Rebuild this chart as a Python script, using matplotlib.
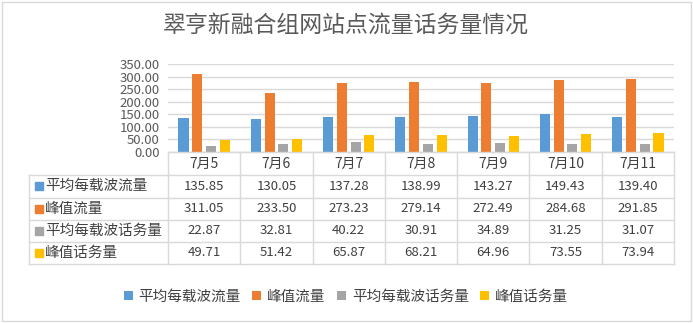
import matplotlib.pyplot as plt
from matplotlib.lines import Line2D
from matplotlib.patches import Rectangle
import numpy as np

plt.rcParams['font.family'] = ['Noto Sans CJK SC', 'DejaVu Sans']

title = "翠亨新融合组网站点流量话务量情况"
dates = ["7月5", "7月6", "7月7", "7月8", "7月9", "7月10", "7月11"]
avg_flow = [135.85, 130.05, 137.28, 138.99, 143.27, 149.43, 139.40]
peak_flow = [311.05, 233.50, 273.23, 279.14, 272.49, 284.68, 291.85]
avg_traffic = [22.87, 32.81, 40.22, 30.91, 34.89, 31.25, 31.07]
peak_traffic = [49.71, 51.42, 65.87, 68.21, 64.96, 73.55, 73.94]
series_names = ["平均每载波流量", "峰值流量", "平均每载波话务量", "峰值话务量"]
series = [avg_flow, peak_flow, avg_traffic, peak_traffic]
colors = ['#5b9bd5', '#ed7d31', '#a5a5a5', '#ffc000']

W, H = 693, 323
fig = plt.figure(figsize=(W / 100, H / 100), dpi=100)


def fx(x):
    return x / W


def fy(y):
    return 1 - y / H


grid_c = '#d9d9d9'
text_c = '#404040'

# outer chart border
fig.add_artist(Rectangle((fx(2), fy(321)), fx(689), (319) / H, transform=fig.transFigure,
                         fill=False, edgecolor=grid_c, linewidth=1))

fig.text(fx(346), fy(25), title, ha='center', va='center', fontsize=16.5, color='#595959')

# bar chart area
left, right, top, base = 168, 674, 64, 152
ax = fig.add_axes([fx(left), fy(base), fx(right - left), (base - top) / H])
x = np.arange(len(dates))
bw = 0.14
step = 0.19
for i, (vals, c, name) in enumerate(zip(series, colors, series_names)):
    ax.bar(x + (i - 1.5) * step, vals, width=bw, color=c, label=name, zorder=3)
ax.set_xlim(-0.5, len(dates) - 0.5)
ax.set_ylim(0, 350)
ax.set_yticks(np.arange(0, 351, 50))
ax.set_yticklabels([f"{v:.2f}" for v in np.arange(0, 351, 50)], fontsize=9.5, color='#595959')
ax.tick_params(axis='y', length=0, pad=6)
ax.set_xticks([])
ax.grid(axis='y', color=grid_c, linewidth=1, zorder=0)
for s in ['top', 'right', 'left']:
    ax.spines[s].set_visible(False)
ax.spines['bottom'].set_color(grid_c)

# data table under the bars
col_w = (right - left) / len(dates)
tab_left = 29
rows_y = [152, 175, 197.5, 220, 242, 264]


def hline(x0, x1, y):
    fig.add_artist(Line2D([fx(x0), fx(x1)], [fy(y), fy(y)], transform=fig.transFigure,
                          color=grid_c, linewidth=1))


def vline(xp, y0, y1):
    fig.add_artist(Line2D([fx(xp), fx(xp)], [fy(y0), fy(y1)], transform=fig.transFigure,
                          color=grid_c, linewidth=1))


hline(left, right, rows_y[0])
for y in rows_y[1:]:
    hline(tab_left, right, y)
vline(tab_left, rows_y[1], rows_y[-1])
for j in range(len(dates) + 1):
    vline(left + j * col_w, rows_y[0], rows_y[-1])

for j, d in enumerate(dates):
    cx = left + (j + 0.5) * col_w
    fig.text(fx(cx), fy((rows_y[0] + rows_y[1]) / 2), d, ha='center', va='center',
             fontsize=10, color=text_c)

for i, (vals, c, name) in enumerate(zip(series, colors, series_names)):
    cy = (rows_y[i + 1] + rows_y[i + 2]) / 2
    fig.add_artist(Rectangle((fx(35), fy(cy + 4)), 8 / W, 8 / H, transform=fig.transFigure,
                             color=c))
    fig.text(fx(45), fy(cy), name, ha='left', va='center', fontsize=10.5, color=text_c)
    for j, v in enumerate(vals):
        cx = left + (j + 0.5) * col_w
        fig.text(fx(cx), fy(cy), f"{v:.2f}", ha='center', va='center',
                 fontsize=9.5, color=text_c)

handles, labels = ax.get_legend_handles_labels()
fig.legend(handles, labels, loc='center', bbox_to_anchor=(fx(346), fy(297)), ncol=4,
           frameon=False, fontsize=10.5, handlelength=0.6, handleheight=0.6,
           handletextpad=0.4, columnspacing=0.8, labelcolor=text_c)

fig.savefig("out.png", dpi=100)
